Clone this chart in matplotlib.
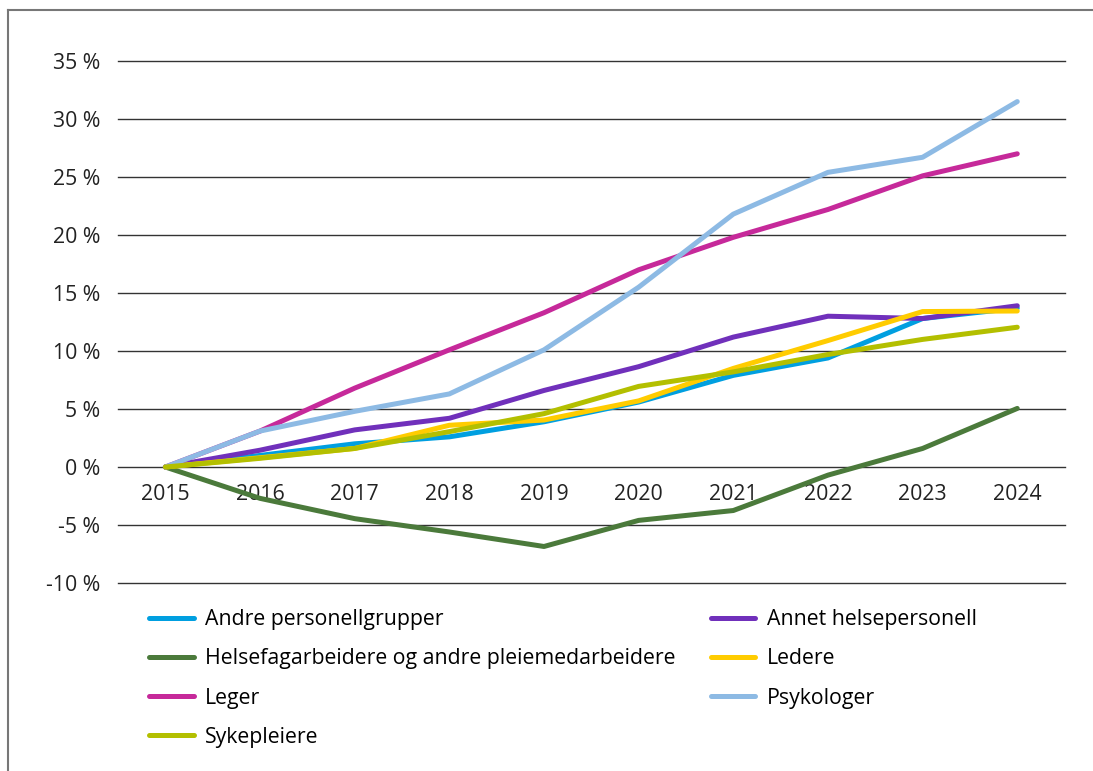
import matplotlib.pyplot as plt
from matplotlib.lines import Line2D
import numpy as np

plt.rcParams['font.family'] = ['Open Sans', 'DejaVu Sans']

years = [2015, 2016, 2017, 2018, 2019, 2020, 2021, 2022, 2023, 2024]

# endring i prosent fra 2015
andre = [0, 1.0, 2.0, 2.6, 3.9, 5.6, 7.9, 9.4, 12.8, 13.7]
annet = [0, 1.45, 3.2, 4.2, 6.6, 8.65, 11.2, 13.0, 12.8, 13.9]
helsefag = [0, -2.7, -4.45, -5.6, -6.85, -4.6, -3.75, -0.7, 1.6, 5.05]
ledere = [0, 0.8, 1.6, 3.6, 4.05, 5.7, 8.5, 10.9, 13.4, 13.45]
leger = [0, 3.1, 6.8, 10.1, 13.3, 17.0, 19.8, 22.2, 25.1, 27.0]
psykologer = [0, 3.1, 4.8, 6.3, 10.1, 15.5, 21.8, 25.4, 26.7, 31.5]
sykepleiere = [0, 0.75, 1.6, 3.05, 4.6, 6.95, 8.2, 9.7, 11.0, 12.05]

series = [
    ("Andre personellgrupper", andre, "#009fe0"),
    ("Annet helsepersonell", annet, "#7030bb"),
    ("Helsefagarbeidere og andre pleiemedarbeidere", helsefag, "#4b7a3b"),
    ("Ledere", ledere, "#ffcc00"),
    ("Leger", leger, "#c6299a"),
    ("Psykologer", psykologer, "#8dbae4"),
    ("Sykepleiere", sykepleiere, "#b3bf00"),
]

yticks = [-10, -5, 0, 5, 10, 15, 20, 25, 30, 35]

fig = plt.figure(figsize=(10.93, 7.71), dpi=100)
ax = fig.add_axes([0.108, 0.2438, 0.866, 0.6771])

handles = {}
for name, vals, col in series:
    h, = ax.plot(years, vals, color=col, lw=3.6, solid_capstyle='round',
                 solid_joinstyle='round', label=name)
    handles[name] = h

ax.set_xlim(2014.5, 2024.5)
ax.set_ylim(-10, 35)
ax.set_yticks(yticks)
ax.set_yticklabels([f"{t} %" for t in yticks])
ax.set_xticks(years)
ax.set_xticklabels([str(y) for y in years])
ax.grid(axis='y', color='#333333', lw=1)
for gl in ax.get_ygridlines():
    gl.set_clip_on(False)
ax.set_axisbelow(True)
for s in ax.spines.values():
    s.set_visible(False)
ax.spines['bottom'].set_position(('data', 0))
ax.tick_params(axis='both', length=0, labelsize=15.3, colors='#222222')
ax.tick_params(axis='y', pad=13)
ax.tick_params(axis='x', pad=12)

order = ["Andre personellgrupper", "Helsefagarbeidere og andre pleiemedarbeidere",
         "Leger", "Sykepleiere", "Annet helsepersonell", "Ledere", "Psykologer"]
fig.legend([handles[n] for n in order], order, ncol=2, frameon=False,
           loc='upper left', bbox_to_anchor=(0.1363, 0.210), fontsize=15.3,
           handlelength=2.1, handletextpad=0.55, columnspacing=1.65,
           labelspacing=0.86, borderaxespad=0, borderpad=0)

# ramme
fig.add_artist(Line2D([8/1093, 8/1093], [0, 1 - 10/771], color='#777777', lw=1.5))
fig.add_artist(Line2D([8/1093, 1], [1 - 10/771, 1 - 10/771], color='#777777', lw=1.5))

fig.savefig("out.png", dpi=100)
